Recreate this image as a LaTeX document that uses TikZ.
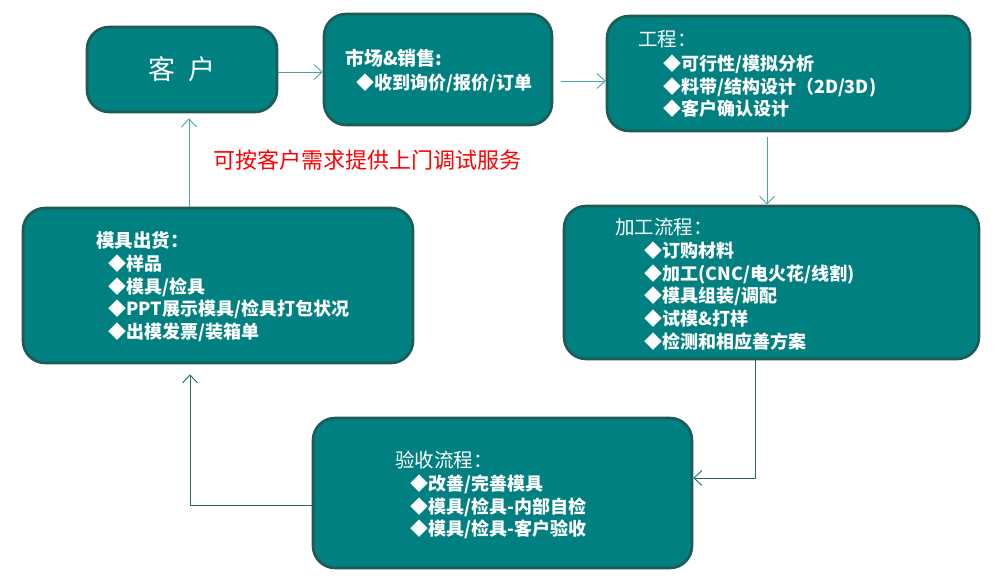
\documentclass[tikz,border=0pt]{standalone}
\usepackage{fontspec}
\setmainfont{Noto Sans CJK SC}
\usetikzlibrary{arrows.meta,calc}
\definecolor{boxfill}{HTML}{008080}
\definecolor{boxline}{HTML}{1E5B57}
\definecolor{linelight}{HTML}{4FA3A3}
\definecolor{linedark}{HTML}{1F6B66}
\definecolor{notered}{HTML}{FF0000}
\tikzset{
  box/.style={draw=boxline, line width=2.6pt, fill=boxfill, rounded corners=22pt, inner sep=0pt},
  conn/.style={draw=linelight, line width=0.9pt, -{Straight Barb[length=8pt,width=15pt]}},
  conndark/.style={draw=linedark, line width=0.9pt, -{Straight Barb[length=8pt,width=15pt]}},
  ttl/.style={text=white, anchor=west, inner sep=0pt, font=\fontsize{19.5}{22}\selectfont},
  items/.style={text=white, anchor=north west, inner sep=0pt, align=left, font=\bfseries\fontsize{18}{22.7}\selectfont}
}
\begin{document}
\begin{tikzpicture}[x=1pt,y=-1pt]
\useasboundingbox (0,0) rectangle (1008,577);
% boxes
\node[box, minimum width=190pt, minimum height=85pt] (kh) at (182,69.5) {};
\node[box, minimum width=228pt, minimum height=111pt] (sc) at (438,69.5) {};
\node[box, minimum width=363pt, minimum height=115pt] (gc) at (788.5,73.5) {};
\node[box, minimum width=415pt, minimum height=153pt] (jg) at (771.5,282.5) {};
\node[box, minimum width=390pt, minimum height=155pt] (ch) at (218,285.5) {};
\node[box, minimum width=379pt, minimum height=150pt] (ys) at (502.5,493) {};
% texts
\node[text=white, inner sep=0pt, font=\fontsize{27}{30}\selectfont] (khT) at (kh) {客\hspace{0.45em}户};
\node[ttl, font=\bfseries\fontsize{19}{22}\selectfont] (scT) at (345,58) {市场\&销售:};
\node[items] (scI) at (356,73.5) {◆收到询价/报价/订单};
\node[ttl] (gcT) at (638,39) {工程：};
\node[items] (gcI) at (663,54.5) {◆可行性/模拟分析\\◆料带/结构设计（2D/3D)\\◆客户确认设计};
\node[ttl] (jgT) at (615,227) {加工流程：};
\node[items] (jgI) at (644,241.5) {◆订购材料\\◆加工(CNC/电火花/线割)\\◆模具组装/调配\\◆试模\&打样\\◆检测和相应善方案};
\node[ttl, font=\bfseries\fontsize{18.5}{22}\selectfont] (chT) at (96,240) {模具出货：};
\node[items] (chI) at (108,254.5) {◆样品\\◆模具/检具\\◆PPT展示模具/检具打包状况\\◆出模发票/装箱单};
\node[ttl] (ysT) at (395,460) {验收流程：};
\node[items] (ysI) at (410,474.5) {◆改善/完善模具\\◆模具/检具-内部自检\\◆模具/检具-客户验收};
\node[text=notered, inner sep=0pt, font=\fontsize{22}{24}\selectfont] (note) at (367,160) {可按客户需求提供上门调试服务};
% connectors
\draw[conn] ($(kh.east)+(0,2.5)$) -- ($(sc.west)+(0,2.5)$);
\draw[conn] ($(sc.east)+(8,11.5)$) -- ($(gc.west)+(0,7.5)$);
\draw[conn] ($(gc.south)+(-21.5,5)$) coordinate (gcs) -- (gcs |- jg.north);
\draw[conndark] ($(jg.south)+(-16.5,0)$) |- ($(ys.east)+(0,-15)$);
\draw[conndark] ($(ys.west)+(0,12)$) -| ($(ch.south)+(-28,10)$);
\draw[conn] ($(ch.north)+(-29,0)$) -- ($(kh.south)+(7,5)$);
\end{tikzpicture}
\end{document}
